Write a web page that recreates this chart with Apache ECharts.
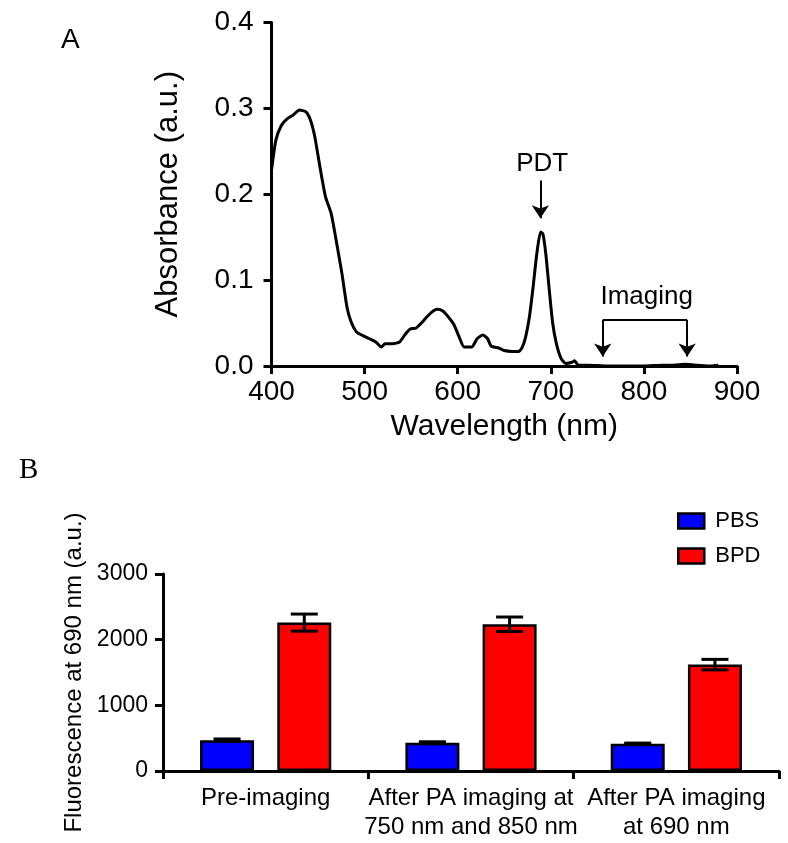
<!DOCTYPE html>
<html>
<head>
<meta charset="utf-8">
<script src="https://cdn.jsdelivr.net/npm/echarts@6/dist/echarts.min.js"></script>
<style>
  html, body { margin: 0; padding: 0; background: #fff; }
  #chart { width: 788px; height: 843px; }
</style>
</head>
<body>
<div id="chart"></div>
<script>
// ---------- Panel A: absorbance spectrum ----------
const wavelengths = [400, 404.7, 410.5, 417, 423, 430, 437, 442, 446.5, 452, 458, 464, 470, 475.6, 481, 485, 491, 497, 504.7, 512, 518, 522, 530, 537.6, 543, 549, 555, 561, 566.7, 572.5, 578, 584, 590, 596, 601.5, 607, 615, 621, 627, 632, 636, 644, 650, 658, 665.5, 669, 673, 677, 681, 685, 689, 691.5, 694.6, 698.4, 702, 706, 711, 716, 722, 725.6, 729.5, 740, 760, 780, 800, 820, 830, 845, 855, 870, 880];
const absorbance  = [0.228, 0.263, 0.280, 0.288, 0.292, 0.298, 0.296, 0.286, 0.267, 0.232, 0.197, 0.178, 0.143, 0.108, 0.069, 0.053, 0.040, 0.036, 0.032, 0.028, 0.022, 0.026, 0.026, 0.028, 0.036, 0.043, 0.044, 0.050, 0.057, 0.063, 0.066, 0.064, 0.057, 0.048, 0.034, 0.022, 0.022, 0.032, 0.036, 0.032, 0.023, 0.021, 0.018, 0.017, 0.017, 0.021, 0.034, 0.057, 0.092, 0.131, 0.156, 0.154, 0.131, 0.088, 0.050, 0.026, 0.009, 0.003, 0.004, 0.006, 0.001, 0.001, 0.000, 0.000, 0.000, 0.001, 0.001, 0.002, 0.001, 0.000, 0.001];

// annotation anchors (data coordinates)
const pdtLabel = [690.7, 0.236];
const pdtArrow = [[688.8, 0.216], [688.8, 0.172]];
const imagingLabel = [803, 0.0806];
const imagingLeft = [[755.8, 0.0535], [755.8, 0.011]];
const imagingRight = [[846.5, 0.0535], [846.5, 0.011]];

// ---------- Panel B: fluorescence bars ----------
const categories = ['Pre-imaging', 'After PA imaging at\n750 nm and 850 nm', 'After PA imaging\nat 690 nm'];
const pbsValues = [470, 430, 415];
const pbsErrors = [18, 15, 10];
const bpdValues = [2260, 2235, 1620];
const bpdErrors = [130, 110, 80];

const FONT = 'Liberation Sans, Arial, sans-serif';
const BAR_W = 0.263;
const BAR_GAP = 0.43;

const pairs = wavelengths.map((w, i) => [w, absorbance[i]]);

function errData(vals, errs) {
  return vals.map((v, i) => [i, v - errs[i], v + errs[i]]);
}
function errRenderer(sign) {
  return function (params, api) {
    const idx = api.value(0);
    const lo = api.coord([idx, api.value(1)]);
    const hi = api.coord([idx, api.value(2)]);
    const band = api.size([1, 0])[0];
    const off = sign * band * BAR_W * (1 + BAR_GAP) / 2;
    const cx = hi[0] + off;
    const cap = band * BAR_W / 4;
    const st = { stroke: '#000', lineWidth: 3 };
    return {
      type: 'group',
      children: [
        { type: 'line', shape: { x1: cx, y1: hi[1], x2: cx, y2: lo[1] }, style: st },
        { type: 'line', shape: { x1: cx - cap, y1: hi[1], x2: cx + cap, y2: hi[1] }, style: st },
        { type: 'line', shape: { x1: cx - cap, y1: lo[1], x2: cx + cap, y2: lo[1] }, style: st }
      ]
    };
  };
}

const chart = echarts.init(document.getElementById('chart'), null, { renderer: 'canvas' });

const axisLineStyle = { lineStyle: { color: '#000', width: 3 } };

chart.setOption({
  animation: false,
  backgroundColor: '#fff',
  textStyle: { fontFamily: FONT, color: '#000' },
  graphic: [
    { type: 'text', left: 61, top: 26, style: { text: 'A', font: '28px ' + FONT, fill: '#000' } },
    { type: 'text', left: 19, top: 456, style: { text: 'B', font: '29px "Liberation Serif", "Times New Roman", serif', fill: '#000' } }
  ],
  legend: {
    data: ['PBS', 'BPD'],
    orient: 'vertical',
    left: 672,
    top: 505,
    itemWidth: 26,
    itemHeight: 15,
    itemGap: 13,
    icon: 'rect',
    itemStyle: { borderColor: '#000', borderWidth: 2.5 },
    textStyle: { fontSize: 22, fontFamily: FONT, color: '#000', padding: [0, 0, 0, 6] }
  },
  grid: [
    { left: 271.5, right: 51, top: 22.5, bottom: 477 },
    { left: 163, right: 9, top: 574, bottom: 72 }
  ],
  xAxis: [
    {
      gridIndex: 0, type: 'value', min: 400, max: 900, interval: 100,
      name: 'Wavelength (nm)', nameLocation: 'middle', nameGap: 46,
      nameTextStyle: { fontSize: 30, color: '#000', fontFamily: FONT },
      axisLine: axisLineStyle,
      axisTick: { show: true, length: 8, lineStyle: { color: '#000', width: 3 } },
      axisLabel: { fontSize: 28, color: '#000', margin: 12, fontFamily: FONT },
      splitLine: { show: false }
    },
    {
      gridIndex: 1, type: 'category', data: categories,
      axisLine: axisLineStyle,
      axisTick: { show: true, length: 8, alignWithLabel: false, lineStyle: { color: '#000', width: 3 } },
      axisLabel: { fontSize: 24, color: '#000', margin: 13, lineHeight: 29, interval: 0, fontFamily: FONT },
      splitLine: { show: false }
    }
  ],
  yAxis: [
    {
      gridIndex: 0, type: 'value', min: 0, max: 0.4, interval: 0.1,
      name: 'Absorbance (a.u.)', nameLocation: 'middle', nameGap: 88,
      nameTextStyle: { fontSize: 31, color: '#000', fontFamily: FONT },
      axisLine: { show: true, lineStyle: { color: '#000', width: 3 } },
      axisTick: { show: true, length: 8, lineStyle: { color: '#000', width: 3 } },
      axisLabel: { fontSize: 28, color: '#000', margin: 18, fontFamily: FONT, formatter: v => v.toFixed(1) },
      splitLine: { show: false }
    },
    {
      gridIndex: 1, type: 'value', min: 0, max: 3000, interval: 1000,
      name: 'Fluorescence at 690 nm (a.u.)', nameLocation: 'middle', nameGap: 60,
      nameTextStyle: { fontSize: 24, color: '#000', fontFamily: FONT },
      axisLine: { show: true, lineStyle: { color: '#000', width: 3 } },
      axisTick: { show: true, length: 8, lineStyle: { color: '#000', width: 3 } },
      axisLabel: { fontSize: 23, color: '#000', margin: 15, fontFamily: FONT, formatter: v => String(v) },
      splitLine: { show: false }
    }
  ],
  series: [
    {
      name: 'Absorbance', type: 'line', xAxisIndex: 0, yAxisIndex: 0,
      data: pairs, showSymbol: false, smooth: 0.2,
      lineStyle: { color: '#000', width: 3 },
      itemStyle: { color: '#000' },
      silent: true,
      markLine: {
        silent: true,
        symbol: ['none', 'arrow'],
        symbolSize: 13,
        label: { show: false },
        lineStyle: { color: '#000', width: 2, type: 'solid' },
        emphasis: { disabled: true },
        data: [
          [{ coord: pdtArrow[0] }, { coord: pdtArrow[1] }],
          [{ coord: imagingLeft[0] }, { coord: imagingLeft[1] }],
          [{ coord: imagingRight[0] }, { coord: imagingRight[1] }],
          [{ coord: imagingLeft[0], symbol: 'none' }, { coord: imagingRight[0], symbol: 'none' }]
        ]
      },
      markPoint: {
        silent: true,
        symbol: 'circle',
        symbolSize: 0,
        itemStyle: { color: 'rgba(0,0,0,0)' },
        label: { show: true, position: 'inside', color: '#000', fontSize: 26, fontFamily: FONT },
        data: [
          { coord: pdtLabel, label: { formatter: 'PDT' } },
          { coord: imagingLabel, label: { formatter: 'Imaging' } }
        ]
      }
    },
    {
      name: 'PBS', type: 'bar', xAxisIndex: 1, yAxisIndex: 1,
      data: pbsValues, barWidth: (BAR_W * 100) + '%', barGap: (BAR_GAP * 100) + '%',
      itemStyle: { color: '#0000ff', borderColor: '#000', borderWidth: 2.5 }
    },
    {
      name: 'BPD', type: 'bar', xAxisIndex: 1, yAxisIndex: 1,
      data: bpdValues, barWidth: (BAR_W * 100) + '%', barGap: (BAR_GAP * 100) + '%',
      itemStyle: { color: '#ff0000', borderColor: '#000', borderWidth: 2.5 }
    },
    {
      name: 'PBS err', type: 'custom', xAxisIndex: 1, yAxisIndex: 1, z: 5,
      renderItem: errRenderer(-1), data: errData(pbsValues, pbsErrors), silent: true
    },
    {
      name: 'BPD err', type: 'custom', xAxisIndex: 1, yAxisIndex: 1, z: 5,
      renderItem: errRenderer(1), data: errData(bpdValues, bpdErrors), silent: true
    }
  ]
});
</script>
</body>
</html>
